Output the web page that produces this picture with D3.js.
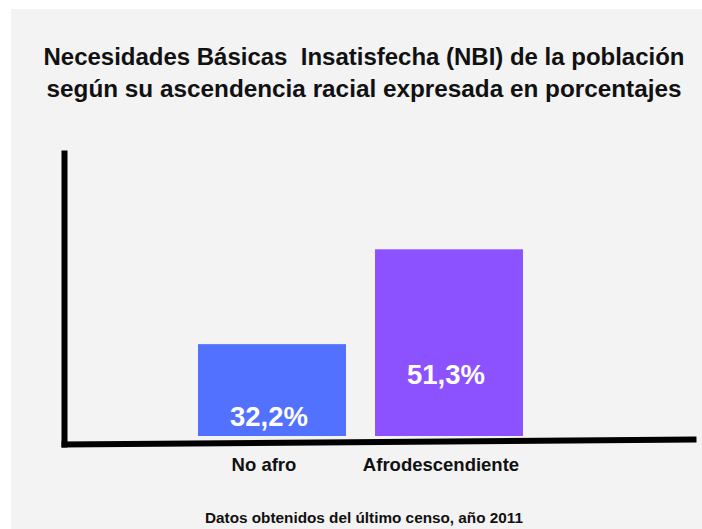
<!DOCTYPE html>
<html lang="es">
<head>
    <meta charset="UTF-8">
    <title>NBI</title>
    <script src="https://cdn.jsdelivr.net/npm/d3@7"></script>
    <style>
        body { margin: 0; background: #fff; }
        svg { display: block; }
    </style>
</head>
<body>
<svg width="702" height="529" font-family="'Liberation Sans', Arial, sans-serif"></svg>
<script>
    // datos
    var categories = ["No afro", "Afrodescendiente"];
    var values = [32.2, 51.3];
    var valueLabels = ["32,2%", "51,3%"];
    var colors = ["#5271ff", "#8c52ff"];
    var titleLines = ["Necesidades Básicas  Insatisfecha (NBI) de la población",
        "según su ascendencia racial expresada en porcentajes"];
    var footer = "Datos obtenidos del último censo, año 2011";

    var svg = d3.select("svg"), width = +svg.attr("width"), height = +svg.attr("height");

    // fondo gris
    svg.append("rect").attr("x", 11).attr("y", 9).attr("width", width - 11).attr("height", height - 9)
        .attr("fill", "#f3f3f3");

    // titulo
    svg.append("g").selectAll("text")
        .data(titleLines)
        .enter().append("text")
        .attr("x", 364)
        .attr("y", (d, i) => 65 + i * 32)
        .attr("text-anchor", "middle")
        .attr("textLength", (d, i) => i === 0 ? 641 : 635)
        .attr("lengthAdjust", "spacingAndGlyphs")
        .style("white-space", "pre")
        .style("font-size", "23.5px")
        .style("font-weight", "bold")
        .attr("fill", "#111")
        .text(d => d);

    var xScale = d3.scaleBand()
        .domain(categories)
        .range([198, 523])
        .paddingInner(0.164);

    // la escala no arranca en cero (como en la imagen original)
    var yScale = d3.scaleLinear()
        .domain([13.7, 51.3])
        .range([436, 249.3]);

    var g = svg.append("g");

    g.selectAll(".bar")
        .data(values)
        .enter().append("rect")
        .attr("class", "bar")
        .attr("x", (d, i) => xScale(categories[i]))
        .attr("y", d => yScale(d))
        .attr("width", xScale.bandwidth())
        .attr("height", d => yScale(yScale.domain()[0]) - yScale(d))
        .attr("fill", (d, i) => colors[i]);

    // etiquetas de valor dentro de las barras
    g.selectAll(".val")
        .data(values)
        .enter().append("text")
        .attr("class", "val")
        .attr("x", (d, i) => xScale(categories[i]) + xScale.bandwidth() / 2 - 3)
        .attr("y", (d, i) => i === 0 ? 426 : yScale(d) + 135)
        .attr("text-anchor", "middle")
        .style("font-size", "27.5px")
        .style("font-weight", "bold")
        .attr("fill", "#fff")
        .text((d, i) => valueLabels[i]);

    // categorias
    g.selectAll(".cat")
        .data(categories)
        .enter().append("text")
        .attr("class", "cat")
        .attr("x", d => xScale(d) + xScale.bandwidth() / 2 - 8)
        .attr("y", 471)
        .attr("text-anchor", "middle")
        .style("font-size", "18.5px")
        .style("font-weight", "bold")
        .attr("fill", "#111")
        .text(d => d);

    // ejes (lineas gruesas negras)
    var yAxis = d3.axisLeft(d3.scaleLinear().range([447, 150])).ticks(0).tickSize(0).tickSizeOuter(0);
    svg.append("g")
        .attr("transform", "translate(64,0)")
        .call(yAxis)
        .call(s => s.select(".domain").attr("stroke", "#000").attr("stroke-width", 6));

    var xAxis = d3.axisBottom(d3.scaleLinear().range([0, 635])).ticks(0).tickSize(0).tickSizeOuter(0);
    svg.append("g")
        .attr("transform", "translate(61,444) rotate(-0.45)")
        .call(xAxis)
        .call(s => s.select(".domain").attr("stroke", "#000").attr("stroke-width", 6));

    // nota al pie
    svg.append("text")
        .attr("x", 364)
        .attr("y", 523)
        .attr("text-anchor", "middle")
        .attr("textLength", 318)
        .attr("lengthAdjust", "spacingAndGlyphs")
        .style("font-size", "14px")
        .style("font-weight", "bold")
        .attr("fill", "#111")
        .text(footer);
</script>
</body>
</html>
